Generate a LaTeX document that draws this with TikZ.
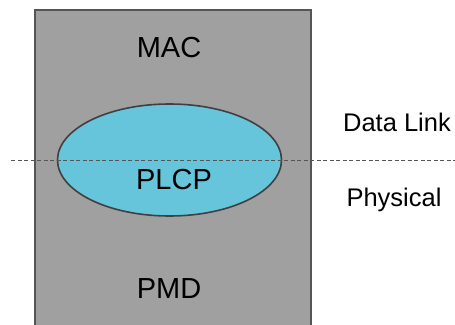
\documentclass[tikz,border=0pt]{standalone}
\usepackage{fontspec}
\setmainfont{Liberation Sans}
\usetikzlibrary{shapes.geometric}
\definecolor{layergray}{RGB}{160,160,160}
\definecolor{framegray}{RGB}{85,85,85}
\definecolor{plcpblue}{RGB}{103,197,219}
\definecolor{edgegray}{RGB}{64,64,64}
\begin{document}
\begin{tikzpicture}[x=1pt,y=-1pt,
  layerlabel/.style={font=\fontsize{29}{34}\selectfont, inner sep=0pt, anchor=base},
  sidelabel/.style={font=\fontsize{25.5}{30}\selectfont, inner sep=0pt, anchor=base},
  boundary/.style={draw=framegray, line width=1.2pt, dash pattern=on 4pt off 2.5pt}]
  \clip (0,0) rectangle (455,324);
  % sublayer stack
  \fill[layergray] (35,10) rectangle (311,340);
  \draw[framegray, line width=2pt] (35,340) -- (35,10) -- (311,10) -- (311,340);
  % PLCP ellipse straddling the layer boundary
  \node (plcpshape) [draw=edgegray, line width=1.6pt, fill=plcpblue, ellipse,
    minimum width=224pt, minimum height=112pt, inner sep=0pt] at (169.5,160) {};
  % boundary between data link and physical layers
  \coordinate (bl) at (11,160.5);
  \coordinate (br) at (455,160.5);
  \draw[boundary] (bl) -- (br);
  % labels
  \node (mac) [layerlabel] at (169,57.3) {MAC};
  \node (plcp) [layerlabel] at (174,189.3) {PLCP};
  \node (pmd) [layerlabel] at (169,298.3) {PMD};
  \node (dl) [sidelabel] at (397,131.7) {Data Link};
  \node (phy) [sidelabel] at (394,206) {Physical};
\end{tikzpicture}
\end{document}
